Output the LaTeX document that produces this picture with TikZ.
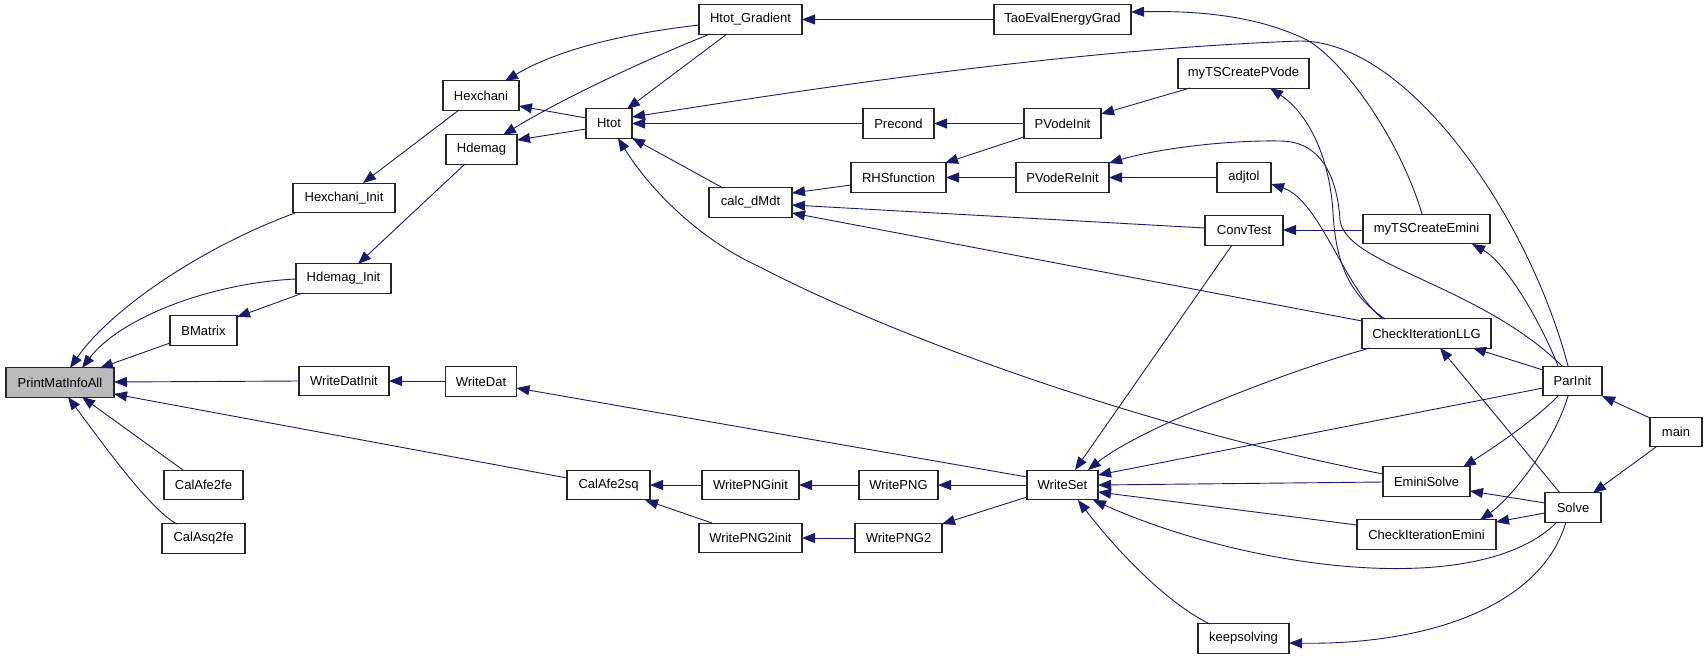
\documentclass[tikz,border=0pt]{standalone}
\usepackage{fontspec}
\setmainfont{Liberation Sans}
\usetikzlibrary{arrows.meta,calc}
\definecolor{edgec}{HTML}{191970}
\begin{document}
\begin{tikzpicture}[x=1pt,y=-1pt,
  fn/.style={draw=black!85, line width=1.1pt, rectangle, inner sep=0pt, minimum height=29.5pt, font=\fontsize{13}{15}\selectfont, text=black},
  call/.style={draw=edgec, line width=0.9pt, {Triangle[length=13pt,width=10pt]}-}]
\useasboundingbox (0,0) rectangle (1707,659);
% nodes
\node[fn, minimum width=108pt, fill=black!27] (PMI) at (60,382.5) {PrintMatInfoAll};
\node[fn, minimum width=102pt] (HXI) at (344,198) {Hexchani\_Init};
\node[fn, minimum width=95pt] (HDI) at (343.5,278.5) {Hdemag\_Init};
\node[fn, minimum width=67pt] (BM) at (203.5,330.5) {BMatrix};
\node[fn, minimum width=90pt] (WDI) at (344,381) {WriteDatInit};
\node[fn, minimum width=79pt] (CA2F) at (203.5,485) {CalAfe2fe};
\node[fn, minimum width=83pt] (CQ2F) at (203.5,538.5) {CalAsq2fe};
\node[fn, minimum width=103pt] (HG) at (750.5,19.5) {Htot\_Gradient};
\node[fn, minimum width=76pt] (HX) at (481,95.5) {Hexchani};
\node[fn, minimum width=71pt] (HD) at (481.5,149.5) {Hdemag};
\node[fn, minimum width=46pt] (HT) at (609,123.5) {Htot};
\node[fn, minimum width=83pt] (CD) at (750.5,202.5) {calc\_dMdt};
\node[fn, minimum width=71pt] (WD) at (481,381.5) {WriteDat};
\node[fn, minimum width=83pt] (CA2S) at (608.5,485) {CalAfe2sq};
\node[fn, minimum width=97pt] (WPI) at (750.5,485) {WritePNGinit};
\node[fn, minimum width=79pt] (WP) at (898.5,485) {WritePNG};
\node[fn, minimum width=103pt] (WP2I) at (750.5,538) {WritePNG2init};
\node[fn, minimum width=87pt] (WP2) at (898.5,538) {WritePNG2};
\node[fn, minimum width=137pt] (TEG) at (1062.5,19.5) {TaoEvalEnergyGrad};
\node[fn, minimum width=131pt] (TSP) at (1243.5,73.5) {myTSCreatePVode};
\node[fn, minimum width=71pt] (PC) at (898.5,123.5) {Precond};
\node[fn, minimum width=77pt] (PVI) at (1062.5,123.5) {PVodeInit};
\node[fn, minimum width=95pt] (RHS) at (898.5,177.5) {RHSfunction};
\node[fn, minimum width=93pt] (PVR) at (1062.5,177.5) {PVodeReInit};
\node[fn, minimum width=54pt] (ADJ) at (1244,177.5) {adjtol};
\node[fn, minimum width=78pt] (CT) at (1244,230.5) {ConvTest};
\node[fn, minimum width=127pt] (TSE) at (1426.5,229) {myTSCreateEmini};
\node[fn, minimum width=129pt] (CLLG) at (1426.5,333.5) {CheckIterationLLG};
\node[fn, minimum width=59pt] (PI) at (1572.5,381) {ParInit};
\node[fn, minimum width=52pt] (MAIN) at (1676,432) {main};
\node[fn, minimum width=87pt] (ES) at (1426.5,481.5) {EminiSolve};
\node[fn, minimum width=56pt] (SOL) at (1573,507.5) {Solve};
\node[fn, minimum width=139pt] (CIE) at (1426.5,534.5) {CheckIterationEmini};
\node[fn, minimum width=71pt] (WS) at (1062.5,485) {WriteSet};
\node[fn, minimum width=91pt] (KS) at (1243.5,638.5) {keepsolving};
% edges (arrow at callee)
\draw[call] ($(PMI)+(10,-14.5)$) .. controls (110,310) and (200,248) .. ($(HXI)+(-49,15)$);
\draw[call] ($(PMI)+(22,-14.5)$) .. controls (120,318) and (210,283) .. ($(HDI)+(-47.5,0.5)$);
\draw[call] ($(PMI)+(40,-14.5)$) -- ($(BM)+(-33.5,12.5)$);
\draw[call] ($(PMI)+(54,-0.5)$) -- ($(WDI)+(-45,0)$);
\draw[call] ($(PMI)+(54,11.5)$) -- ($(CA2S)+(-41.5,-7)$);
\draw[call] ($(PMI)+(22,14.5)$) -- ($(CA2F)+(-20.5,-15)$);
\draw[call] ($(PMI)+(8,14.5)$) .. controls (100,440) and (150,510) .. ($(CQ2F)+(-26.5,-14.5)$);
\draw[call] ($(BM)+(33.5,-13.5)$) -- ($(HDI)+(-40.5,14.5)$);
\draw[call] ($(HXI)+(19,-15)$) -- ($(HX)+(-22,14.5)$);
\draw[call] ($(HDI)+(14.5,-14.5)$) -- ($(HD)+(-16.5,14.5)$);
\draw[call] ($(HX)+(24,-14.5)$) .. controls (560,48) and (630,33) .. ($(HG)+(-51.5,5.5)$);
\draw[call] ($(HX)+(38,10.5)$) -- ($(HT)+(-23,-5.5)$);
\draw[call] ($(HD)+(21.5,-14.5)$) .. controls (560,100) and (640,62) .. ($(HG)+(-40.5,14.5)$);
\draw[call] ($(HD)+(35.5,-9.5)$) -- ($(HT)+(-23,5.5)$);
\draw[call] ($(HT)+(18,-14.5)$) -- ($(HG)+(-23.5,14.5)$);
\draw[call] ($(HT)+(23,-6.5)$) .. controls (760,97) and (1050,50) .. (1300,41) .. controls (1410,41) and (1530,220) .. ($(PI)+(-4.5,-15)$);
\draw[call] ($(HT)+(23,0)$) -- ($(PC)+(-35.5,0)$);
\draw[call] ($(HT)+(23,14.5)$) -- ($(CD)+(-27.5,-14.5)$);
\draw[call] ($(HT)+(9,14.5)$) .. controls (650,190) and (700,240) .. (760,267) .. controls (880,330) and (1130,425) .. ($(ES)+(-43.5,-7.5)$);
\draw[call] ($(HG)+(51.5,0)$) -- ($(TEG)+(-68.5,0)$);
\draw[call] ($(PC)+(35.5,0)$) -- ($(PVI)+(-38.5,0)$);
\draw[call] ($(CD)+(41.5,-9.5)$) -- ($(RHS)+(-47.5,7.5)$);
\draw[call] ($(CD)+(41.5,2.5)$) -- ($(CT)+(-39,-2.5)$);
\draw[call] ($(CD)+(41.5,10.5)$) -- ($(CLLG)+(-64.5,-12.5)$);
\draw[call] ($(RHS)+(46.5,-14.5)$) -- ($(PVI)+(-38.5,13.5)$);
\draw[call] ($(RHS)+(47.5,0)$) -- ($(PVR)+(-46.5,0)$);
\draw[call] ($(PVI)+(38.5,-9.5)$) -- ($(TSP)+(-53.5,14.5)$);
\draw[call] ($(PVR)+(46.5,0)$) -- ($(ADJ)+(-27,0)$);
\draw[call] ($(PVR)+(46.5,-14.5)$) .. controls (1160,148) and (1230,140) .. (1280,141) .. controls (1320,141) and (1337,175) .. (1340,220) .. controls (1345,265) and (1480,285) .. ($(PI)+(-10.5,-15)$);
\draw[call] ($(TSP)+(26.5,14.5)$) .. controls (1310,115) and (1330,160) .. (1333,213) .. controls (1336,265) and (1350,295) .. ($(CLLG)+(-41.5,-14.5)$);
\draw[call] ($(ADJ)+(27,6.5)$) .. controls (1320,200) and (1345,290) .. ($(CLLG)+(-43.5,-14.5)$);
\draw[call] ($(CT)+(39,-0.5)$) -- ($(TSE)+(-63.5,1)$);
\draw[call] ($(WS)+(12.5,-15)$) -- ($(CT)+(-12,14.5)$);
\draw[call] ($(TEG)+(68.5,-7.5)$) .. controls (1220,10) and (1270,22) .. (1307,40) .. controls (1345,62) and (1400,140) .. ($(TSE)+(-4.5,-15)$);
\draw[call] ($(TSE)+(45.5,15)$) .. controls (1505,262) and (1540,320) .. ($(PI)+(-14.5,-15)$);
\draw[call] ($(CLLG)+(46.5,14.5)$) -- ($(PI)+(-29.5,-11)$);
\draw[call] ($(CLLG)+(13.5,14.5)$) -- ($(SOL)+(-13,-14.5)$);
\draw[call] ($(WS)+(25.5,-15)$) .. controls (1140,428) and (1290,370) .. ($(CLLG)+(-56.5,14.5)$);
\draw[call] ($(WS)+(35.5,-10)$) -- ($(PI)+(-29.5,7)$);
\draw[call] ($(WS)+(35.5,0)$) -- ($(ES)+(-43.5,0.5)$);
\draw[call] ($(WS)+(35.5,7)$) -- ($(CIE)+(-69.5,-9.5)$);
\draw[call] ($(WS)+(30.5,15)$) .. controls (1250,570) and (1480,600) .. ($(SOL)+(-16,14.5)$);
\draw[call] ($(WS)+(15.5,15)$) .. controls (1120,555) and (1170,605) .. ($(KS)+(-33.5,-14.5)$);
\draw[call] ($(KS)+(45.5,4.5)$) .. controls (1420,645) and (1540,610) .. ($(SOL)+(-7,14.5)$);
\draw[call] ($(WP)+(39.5,0)$) -- ($(WS)+(-35.5,0)$);
\draw[call] ($(WP2)+(43.5,-14)$) -- ($(WS)+(-35.5,12)$);
\draw[call] ($(WD)+(35.5,6.5)$) -- ($(WS)+(-35.5,-8)$);
\draw[call] ($(WDI)+(45,0)$) -- ($(WD)+(-35.5,-0.5)$);
\draw[call] ($(CA2S)+(41.5,0)$) -- ($(WPI)+(-48.5,0)$);
\draw[call] ($(CA2S)+(36.5,15)$) -- ($(WP2I)+(-38.5,-15)$);
\draw[call] ($(WPI)+(48.5,0)$) -- ($(WP)+(-39.5,0)$);
\draw[call] ($(WP2I)+(51.5,0)$) -- ($(WP2)+(-43.5,0)$);
\draw[call] ($(ES)+(36.5,-14.5)$) .. controls (1490,450) and (1535,420) .. ($(PI)+(-14.5,15)$);
\draw[call] ($(ES)+(43.5,9.5)$) -- ($(SOL)+(-28,-4.5)$);
\draw[call] ($(CIE)+(53.5,-14.5)$) .. controls (1515,495) and (1555,440) .. ($(PI)+(-4.5,15)$);
\draw[call] ($(CIE)+(69.5,-12.5)$) -- ($(SOL)+(-28,5.5)$);
\draw[call] ($(PI)+(29.5,15)$) -- ($(MAIN)+(-26,-14)$);
\draw[call] ($(SOL)+(20,-14.5)$) -- ($(MAIN)+(-20,15)$);
\end{tikzpicture}
\end{document}
